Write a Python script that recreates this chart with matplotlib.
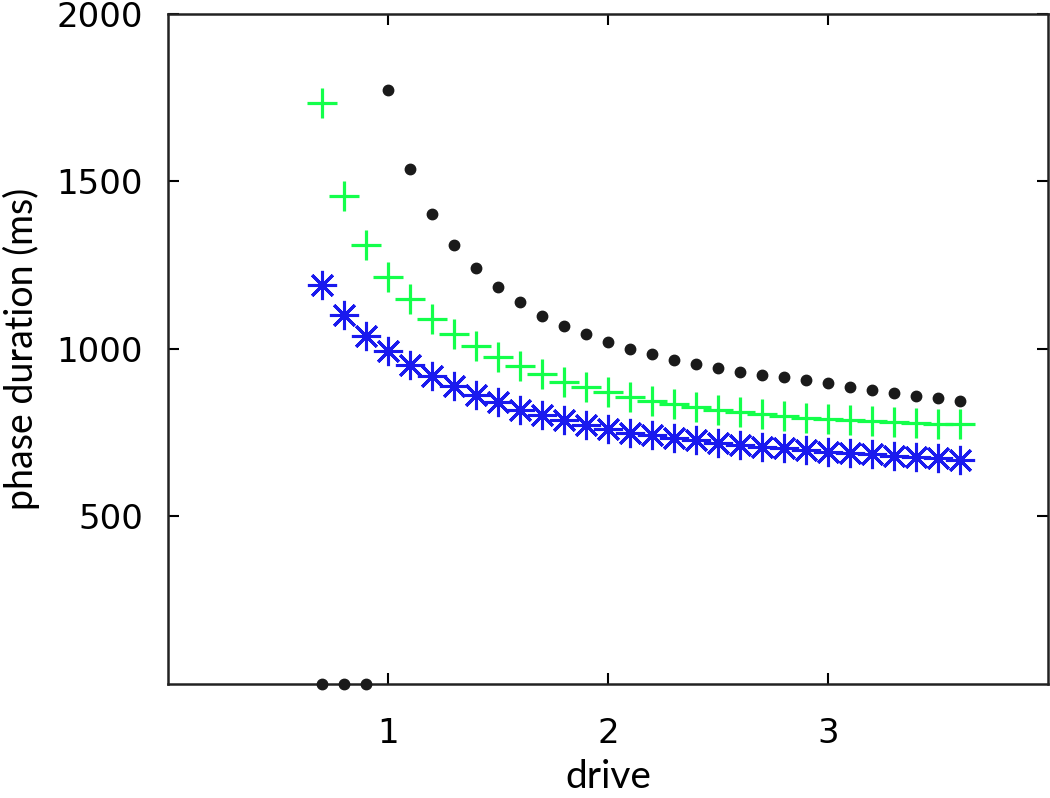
import matplotlib
matplotlib.use("Agg")
import matplotlib.pyplot as plt
import numpy as np

drive = [0.7, 0.8, 0.9, 1.0, 1.1, 1.2, 1.3, 1.4, 1.5, 1.6, 1.7, 1.8, 1.9, 2.0,
         2.1, 2.2, 2.3, 2.4, 2.5, 2.6, 2.7, 2.8, 2.9, 3.0, 3.1, 3.2, 3.3, 3.4,
         3.5, 3.6]

black_dots = [0, 0, 0, 1773, 1537, 1401, 1308, 1240, 1183, 1138, 1099, 1069,
              1044, 1020, 1000, 984, 967, 954, 942, 932, 922, 915, 907, 898,
              886, 878, 868, 860, 852, 845]

green_plus = [1733, 1455, 1308, 1214, 1148, 1090, 1045, 1009, 975, 947, 925,
              902, 886, 872, 857, 845, 834, 826, 817, 810, 804, 798, 793, 790,
              786, 783, 780, 778, 776, 774]

blue_star = [1189, 1101, 1039, 994, 952, 919, 890, 863, 840, 818, 802, 786,
             773, 760, 749, 742, 733, 728, 720, 714, 708, 703, 698, 693, 690,
             686, 681, 677, 673, 669]

x_ticks = [1, 2, 3]
y_ticks = [500, 1000, 1500, 2000]

plt.rcParams['font.family'] = ['Lato', 'DejaVu Sans']

fig = plt.figure(figsize=(10.5, 7.98), dpi=100)
ax = fig.add_axes([0.16, 0.143, 0.838, 0.84])

ax.plot(drive, green_plus, linestyle='none', marker='+', color='#14ff4b',
        markersize=22, markeredgewidth=2.3, clip_on=False)
ax.plot(drive, blue_star, linestyle='none', marker=(8, 2, 0), color='#1a1aee',
        markersize=21, markeredgewidth=2.2, clip_on=False)
ax.plot(drive, black_dots, 'o', color='#1a1a1a', markersize=7.5, clip_on=False,
        zorder=5)

ax.set_xlim(0, 4)
ax.set_ylim(0, 2000)
ax.set_xticks(x_ticks)
ax.set_yticks(y_ticks)
ax.tick_params(direction='in', length=8, width=1.5, top=True, right=True,
               labelsize=24.5)
ax.tick_params(axis='x', pad=24)
ax.tick_params(axis='y', pad=18)
for lbl in ax.get_xticklabels() + ax.get_yticklabels():
    lbl.set_fontfamily('DejaVu Sans')
for s in ax.spines.values():
    s.set_linewidth(1.8)
    s.set_color('#222222')

ax.set_xlabel('drive', fontsize=28, labelpad=6)
ax.set_ylabel('phase duration (ms)', fontsize=27, labelpad=12)

fig.savefig('out.png', dpi=100)
